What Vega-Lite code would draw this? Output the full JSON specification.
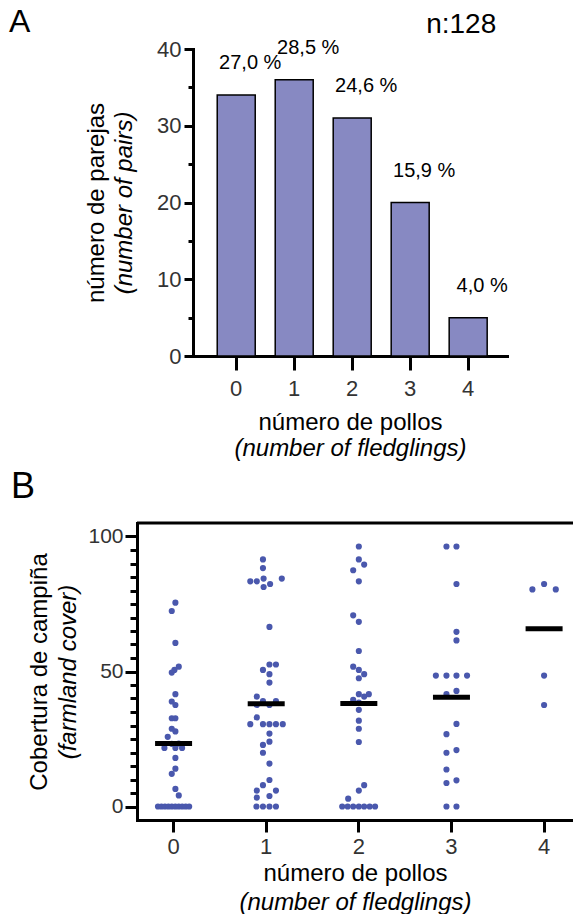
{
  "$schema": "https://vega.github.io/schema/vega-lite/v6.json",
  "padding": {"left": 9, "top": 6, "right": 0, "bottom": 0},
  "config": {
    "font": "Liberation Sans",
    "view": {"stroke": null},
    "axis": {"domainColor": "black", "domainWidth": 3, "domainCap": "square", "tickColor": "black", "tickWidth": 3, "labelColor": "#333333", "labelFontSize": 22, "titleFontSize": 24, "titleFontWeight": "normal", "titleColor": "black", "grid": false, "labelFont": "Liberation Sans", "titleFont": "Liberation Sans"},
    "title": {"fontWeight": "normal", "color": "black", "font": "Liberation Sans"}
  },
  "spacing": 8,
  "vconcat": [
    {
      "width": 370,
      "height": 307,
      "title": {"text": "A", "anchor": "start", "frame": "group", "fontSize": 32, "baseline": "alphabetic", "dx": -128, "offset": 0, "dy": 53},
      "data": {"values": [
        {"pollos": "0", "parejas": 34, "pct": "27,0 %"},
        {"pollos": "1", "parejas": 36, "pct": "28,5 %"},
        {"pollos": "2", "parejas": 31, "pct": "24,6 %"},
        {"pollos": "3", "parejas": 20, "pct": "15,9 %"},
        {"pollos": "4", "parejas": 5, "pct": "4,0 %"}
      ]},
      "resolve": {"axis": {"x": "independent", "y": "independent"}},
      "layer": [
        {
          "mark": {"type": "bar", "color": "#8789c2", "stroke": "black", "strokeWidth": 1.5, "width": 38},
          "encoding": {
            "x": {"field": "pollos", "type": "ordinal", "scale": {"type": "band", "range": [56, 370], "paddingInner": 0.345, "paddingOuter": 0.38, "align": 0.55},
              "axis": {"orient": "bottom", "title": "número de pollos", "labelAngle": 0, "tickSize": 14, "labelPadding": 8, "titlePadding": 11}},
            "y": {"field": "parejas", "type": "quantitative", "scale": {"domain": [0, 40], "nice": false},
              "axis": {"orient": "left", "offset": -56, "values": [0, 10, 20, 30, 40], "tickSize": 9, "labelPadding": 3, "title": "número de parejas", "titlePadding": 48}}
          }
        },
        {
          "mark": {"type": "text", "dx": 14, "dy": -32, "fontSize": 20, "color": "black", "baseline": "middle"},
          "encoding": {
            "x": {"field": "pollos", "type": "ordinal", "axis": {"orient": "bottom", "title": "(number of fledglings)", "titleFontStyle": "italic", "labels": false, "ticks": false, "domain": false, "titlePadding": 80}},
            "y": {"field": "parejas", "type": "quantitative", "axis": {"orient": "left", "offset": -56, "values": [5, 15, 25, 35], "tickSize": 5, "labels": false, "domain": false, "title": "(number of pairs)", "titleFontStyle": "italic", "titlePadding": 50}},
            "text": {"field": "pct"}
          }
        },
        {
          "data": {"values": [{"n": "n:128"}]},
          "mark": {"type": "text", "fontSize": 28, "dx": -7, "baseline": "middle", "align": "center", "color": "black"},
          "encoding": {
            "x": {"datum": "4", "type": "ordinal", "axis": null},
            "y": {"datum": 43.1, "type": "quantitative", "axis": null},
            "text": {"field": "n"}
          }
        }
      ]
    },
    {
      "width": 436,
      "height": 297,
      "title": {"text": "B", "anchor": "start", "frame": "group", "fontSize": 36, "baseline": "alphabetic", "dx": -126, "offset": 24, "dy": 36},
      "data": {"values": [
        {"pollos": "0", "cover": 75.5, "lane": 0.28},
        {"pollos": "0", "cover": 72.4, "lane": -0.28},
        {"pollos": "0", "cover": 60.6, "lane": 0.28},
        {"pollos": "0", "cover": 51.8, "lane": 0.8},
        {"pollos": "0", "cover": 50.6, "lane": 0.13},
        {"pollos": "0", "cover": 49.6, "lane": -0.28},
        {"pollos": "0", "cover": 41.6, "lane": 0.28},
        {"pollos": "0", "cover": 38.9, "lane": -0.28},
        {"pollos": "0", "cover": 37.6, "lane": 0.28},
        {"pollos": "0", "cover": 32.7, "lane": -0.28},
        {"pollos": "0", "cover": 32.7, "lane": 0.28},
        {"pollos": "0", "cover": 28.8, "lane": -0.28},
        {"pollos": "0", "cover": 27.8, "lane": 0.28},
        {"pollos": "0", "cover": 25.8, "lane": -0.9},
        {"pollos": "0", "cover": 23.2, "lane": -0.28},
        {"pollos": "0", "cover": 23.3, "lane": 0.8},
        {"pollos": "0", "cover": 21.7, "lane": -1.41},
        {"pollos": "0", "cover": 21.7, "lane": 0.28},
        {"pollos": "0", "cover": 21.7, "lane": 1.31},
        {"pollos": "0", "cover": 18.0, "lane": 0.28},
        {"pollos": "0", "cover": 14.0, "lane": 0.28},
        {"pollos": "0", "cover": 12.1, "lane": -0.28},
        {"pollos": "0", "cover": 6.5, "lane": 0.28},
        {"pollos": "0", "cover": 4.1, "lane": 0.8},
        {"pollos": "0", "cover": 0, "lane": -2.4},
        {"pollos": "0", "cover": 0, "lane": -1.87},
        {"pollos": "0", "cover": 0, "lane": -1.33},
        {"pollos": "0", "cover": 0, "lane": -0.8},
        {"pollos": "0", "cover": 0, "lane": -0.27},
        {"pollos": "0", "cover": 0, "lane": 0.27},
        {"pollos": "0", "cover": 0, "lane": 0.8},
        {"pollos": "0", "cover": 0, "lane": 1.33},
        {"pollos": "0", "cover": 0, "lane": 1.87},
        {"pollos": "0", "cover": 0, "lane": 2.4},
        {"pollos": "1", "cover": 91.5, "lane": -0.5},
        {"pollos": "1", "cover": 88.3, "lane": -0.5},
        {"pollos": "1", "cover": 84.4, "lane": -0.4},
        {"pollos": "1", "cover": 83.4, "lane": -2.45},
        {"pollos": "1", "cover": 83.4, "lane": -1.45},
        {"pollos": "1", "cover": 82.4, "lane": 0.6},
        {"pollos": "1", "cover": 81.3, "lane": -0.4},
        {"pollos": "1", "cover": 84.4, "lane": 2.4},
        {"pollos": "1", "cover": 66.5, "lane": 0.5},
        {"pollos": "1", "cover": 52.6, "lane": 0.5},
        {"pollos": "1", "cover": 52.6, "lane": 1.5},
        {"pollos": "1", "cover": 50.6, "lane": -0.5},
        {"pollos": "1", "cover": 49.0, "lane": 0.5},
        {"pollos": "1", "cover": 45.9, "lane": 0.5},
        {"pollos": "1", "cover": 40.7, "lane": -1.45},
        {"pollos": "1", "cover": 39.0, "lane": -0.5},
        {"pollos": "1", "cover": 39.0, "lane": 1.5},
        {"pollos": "1", "cover": 37.6, "lane": 0.5},
        {"pollos": "1", "cover": 37.6, "lane": -1.45},
        {"pollos": "1", "cover": 33.0, "lane": -1.45},
        {"pollos": "1", "cover": 30.5, "lane": -2.45},
        {"pollos": "1", "cover": 30.5, "lane": -0.5},
        {"pollos": "1", "cover": 30.5, "lane": 0.5},
        {"pollos": "1", "cover": 30.5, "lane": 1.5},
        {"pollos": "1", "cover": 30.5, "lane": 2.55},
        {"pollos": "1", "cover": 27.0, "lane": 0.5},
        {"pollos": "1", "cover": 24.0, "lane": 0.5},
        {"pollos": "1", "cover": 22.8, "lane": -0.5},
        {"pollos": "1", "cover": 19.9, "lane": -0.5},
        {"pollos": "1", "cover": 15.9, "lane": 0.5},
        {"pollos": "1", "cover": 9.8, "lane": 0.5},
        {"pollos": "1", "cover": 7.9, "lane": -0.5},
        {"pollos": "1", "cover": 5.9, "lane": -1.45},
        {"pollos": "1", "cover": 5.9, "lane": 1.5},
        {"pollos": "1", "cover": 3.9, "lane": 0.5},
        {"pollos": "1", "cover": 3.3, "lane": -1.45},
        {"pollos": "1", "cover": 0, "lane": -1.5},
        {"pollos": "1", "cover": 0, "lane": -0.5},
        {"pollos": "1", "cover": 0, "lane": 0.5},
        {"pollos": "1", "cover": 0, "lane": 1.5},
        {"pollos": "2", "cover": 96.3, "lane": 0},
        {"pollos": "2", "cover": 91.5, "lane": 0},
        {"pollos": "2", "cover": 89.6, "lane": 0.82},
        {"pollos": "2", "cover": 87.5, "lane": -0.87},
        {"pollos": "2", "cover": 83.4, "lane": 0},
        {"pollos": "2", "cover": 70.8, "lane": -0.87},
        {"pollos": "2", "cover": 68.4, "lane": 0},
        {"pollos": "2", "cover": 57.6, "lane": 0},
        {"pollos": "2", "cover": 51.8, "lane": -0.87},
        {"pollos": "2", "cover": 50.6, "lane": 0},
        {"pollos": "2", "cover": 49.0, "lane": 0.82},
        {"pollos": "2", "cover": 47.5, "lane": 0},
        {"pollos": "2", "cover": 41.6, "lane": 0},
        {"pollos": "2", "cover": 41.6, "lane": 1.54},
        {"pollos": "2", "cover": 40.7, "lane": 0.82},
        {"pollos": "2", "cover": 39.5, "lane": -0.87},
        {"pollos": "2", "cover": 38.5, "lane": 0},
        {"pollos": "2", "cover": 35.8, "lane": 0},
        {"pollos": "2", "cover": 31.8, "lane": 0},
        {"pollos": "2", "cover": 28.8, "lane": 0},
        {"pollos": "2", "cover": 23.9, "lane": 0},
        {"pollos": "2", "cover": 7.9, "lane": 0.82},
        {"pollos": "2", "cover": 5.9, "lane": 0},
        {"pollos": "2", "cover": 2.9, "lane": -1.64},
        {"pollos": "2", "cover": 0, "lane": -2.56},
        {"pollos": "2", "cover": 0, "lane": -1.72},
        {"pollos": "2", "cover": 0, "lane": -0.87},
        {"pollos": "2", "cover": 0, "lane": 0},
        {"pollos": "2", "cover": 0, "lane": 0.82},
        {"pollos": "2", "cover": 0, "lane": 1.67},
        {"pollos": "2", "cover": 0, "lane": 2.5},
        {"pollos": "3", "cover": 96.3, "lane": -0.77},
        {"pollos": "3", "cover": 96.3, "lane": 0.77},
        {"pollos": "3", "cover": 82.4, "lane": 0.77},
        {"pollos": "3", "cover": 64.7, "lane": 0.77},
        {"pollos": "3", "cover": 61.5, "lane": 0.77},
        {"pollos": "3", "cover": 48.5, "lane": -2.4},
        {"pollos": "3", "cover": 48.5, "lane": -0.77},
        {"pollos": "3", "cover": 48.5, "lane": 0.77},
        {"pollos": "3", "cover": 48.5, "lane": 2.4},
        {"pollos": "3", "cover": 42.8, "lane": 0.77},
        {"pollos": "3", "cover": 41.6, "lane": -0.77},
        {"pollos": "3", "cover": 30.6, "lane": 0.77},
        {"pollos": "3", "cover": 26.8, "lane": -0.77},
        {"pollos": "3", "cover": 20.9, "lane": 0.77},
        {"pollos": "3", "cover": 19.9, "lane": -0.77},
        {"pollos": "3", "cover": 13.7, "lane": -0.77},
        {"pollos": "3", "cover": 9.7, "lane": 0.77},
        {"pollos": "3", "cover": 8.7, "lane": -0.77},
        {"pollos": "3", "cover": 0, "lane": -0.77},
        {"pollos": "3", "cover": 0, "lane": 0.77},
        {"pollos": "4", "cover": 82.4, "lane": 0},
        {"pollos": "4", "cover": 80.4, "lane": -1.8},
        {"pollos": "4", "cover": 80.4, "lane": 1.8},
        {"pollos": "4", "cover": 48.5, "lane": 0},
        {"pollos": "4", "cover": 37.6, "lane": 0}
      ]},
      "resolve": {"axis": {"x": "independent", "y": "independent"}},
      "layer": [
        {
          "mark": {"type": "point", "filled": true, "size": 38, "color": "#4a58ad", "opacity": 1},
          "encoding": {
            "x": {"field": "pollos", "type": "ordinal", "scale": {"type": "band", "paddingInner": 0.5, "paddingOuter": 0.1035, "align": 0.7},
              "axis": {"orient": "bottom", "title": "número de pollos", "labelAngle": 0, "tickSize": 12, "labelPadding": 4, "titlePadding": 4}},
            "xOffset": {"field": "lane", "type": "quantitative", "scale": {"domain": [-3.565, 3.565]}},
            "y": {"field": "cover", "type": "quantitative", "scale": {"domain": [-5, 105], "nice": false, "zero": false},
              "axis": {"orient": "left", "values": [0, 50, 100], "tickSize": 12, "labelPadding": 2, "labelFontSize": 21, "title": "Cobertura de campiña", "titlePadding": 36}}
          }
        },
        {
          "mark": {"type": "tick", "color": "black", "thickness": 5, "size": 37, "opacity": 1},
          "encoding": {
            "x": {"field": "pollos", "type": "ordinal", "axis": {"orient": "bottom", "title": "(number of fledglings)", "titleFontStyle": "italic", "labels": false, "ticks": false, "domain": false, "titlePadding": 70}},
            "y": {"field": "cover", "aggregate": "mean", "type": "quantitative", "axis": {"orient": "left", "values": [5, 10, 15, 20, 25, 30, 35, 40, 45, 55, 60, 65, 70, 75, 80, 85, 90, 95], "tickSize": 7, "labels": false, "domain": false, "title": "(farmland cover)", "titleFontStyle": "italic", "titlePadding": 48}}
          }
        },
        {
          "data": {"values": [{}]},
          "mark": {"type": "rule", "strokeWidth": 3, "color": "black"},
          "encoding": {
            "y": {"datum": 105, "type": "quantitative", "axis": null}
          }
        }
      ]
    }
  ]
}
